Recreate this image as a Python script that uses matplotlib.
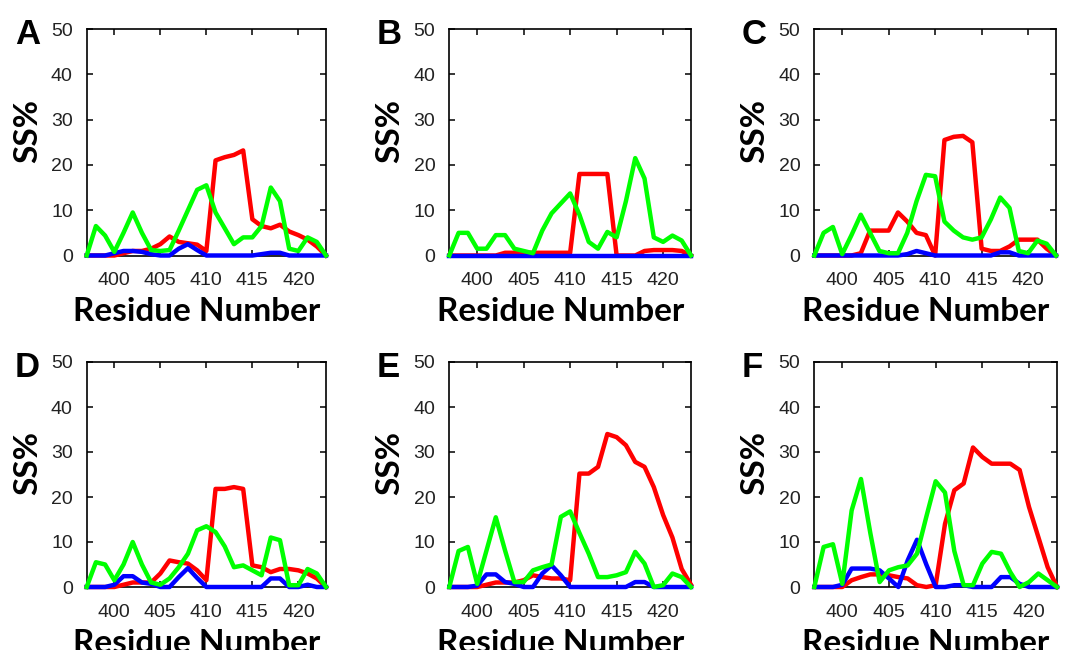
import matplotlib
matplotlib.use("Agg")
import matplotlib.pyplot as plt
import numpy as np

residues = np.arange(397, 424)

# panel A
a_red = [0, 0, 0, 0, 0.5, 1, 1, 1.5, 2.5, 4.2, 3, 2.7, 2.4, 1, 21, 21.7, 22.2, 23.2, 8, 6.5, 6, 6.8, 5.3, 4.5, 3.5, 2, 0]
a_blue = [0, 0, 0, 0.5, 1, 1, 0.8, 0.3, 0, 0, 1.5, 2.5, 1.2, 0, 0, 0, 0, 0, 0, 0.3, 0.6, 0.6, 0, 0, 0, 0, 0]
a_green = [0, 6.5, 4.4, 0.8, 5, 9.5, 5, 1.2, 1, 1.2, 5.5, 10, 14.5, 15.5, 9.5, 6, 2.5, 4, 4, 6.5, 15, 12, 1.5, 1, 4, 3, 0]

# panel B
b_red = [0, 0, 0, 0, 0, 0, 0.6, 0.6, 0.6, 0.6, 0.6, 0.6, 0.6, 0.6, 18, 18, 18, 18, 0, 0, 0, 1, 1.2, 1.2, 1.2, 1, 0]
b_blue = [0] * 27
b_green = [0, 5, 5, 1.5, 1.5, 4.5, 4.5, 1.5, 1, 0.5, 5.5, 9.3, 11.5, 13.7, 9, 3, 1.5, 5.2, 4, 12, 21.5, 17, 4, 3, 4.4, 3.3, 0]

# panel C
c_red = [0, 0, 0, 0, 0, 0.5, 5.5, 5.5, 5.5, 9.5, 7.5, 5, 4.5, 0, 25.5, 26.2, 26.4, 25, 1.5, 1, 1, 2, 3.5, 3.5, 3.5, 1.5, 0]
c_blue = [0, 0, 0, 0, 0, 0, 0, 0, 0, 0, 0.3, 1, 0.5, 0, 0, 0, 0, 0, 0, 0, 0.7, 0.7, 0, 0, 0, 0, 0]
c_green = [0, 5, 6.3, 0.3, 4.5, 9, 5, 1, 0.5, 0.5, 5, 12, 17.8, 17.5, 7.5, 5.5, 4, 3.5, 4, 8, 12.8, 10.5, 1, 0.5, 3.3, 2.6, 0]

# panel D
d_red = [0, 0, 0, 0, 0.5, 1, 1, 1, 3, 5.9, 5.5, 5.2, 3.7, 1.5, 21.8, 21.8, 22.2, 21.8, 4.8, 4.4, 3.3, 4, 4, 3.7, 3, 1.9, 0]
d_blue = [0, 0, 0, 0.5, 2.4, 2.4, 1, 0.7, 0, 0, 2.2, 4.2, 2, 0, 0, 0, 0, 0, 0, 0, 1.9, 1.9, 0, 0, 0.5, 0, 0]
d_green = [0, 5.5, 5, 1.5, 5, 10, 5, 1, 0.5, 1.9, 4.4, 7.4, 12.6, 13.5, 12.2, 9, 4.4, 4.8, 3.7, 2.6, 11, 10.4, 0.4, 0.4, 4, 3, 0]

# panel E
e_red = [0, 0, 0, 0, 0.5, 1, 1, 1, 1.5, 2.6, 2.2, 1.9, 1.9, 1.5, 25.2, 25.2, 26.7, 34, 33.3, 31.5, 27.8, 26.7, 22.2, 16, 11, 4, 0.5]
e_blue = [0, 0, 0, 0.3, 2.8, 2.8, 1.1, 0.7, 0, 0, 3, 4.8, 2.6, 0, 0, 0, 0, 0, 0, 0, 1.1, 1.1, 0, 0, 0, 0, 0]
e_green = [0, 8, 8.9, 0.7, 8.1, 15.5, 8.1, 1.1, 1.1, 3.7, 4.4, 5, 15.6, 16.8, 12, 7.4, 2.2, 2.2, 2.6, 3.3, 7.8, 5.2, 0, 0.4, 3, 2.2, 0]

# panel F
f_red = [0, 0, 0, 0, 1.5, 2.2, 2.8, 2.8, 2.6, 2.2, 1.9, 0.4, 0, 0.4, 14, 21.5, 23, 31, 28.9, 27.4, 27.4, 27.4, 26, 17.8, 11.1, 4.4, 0]
f_blue = [0, 0, 0, 0.5, 4.1, 4.1, 4.1, 3.7, 1.9, 0, 5.9, 10.5, 5, 0, 0, 0.4, 0.4, 0, 0, 0, 2.2, 2.2, 0.7, 0, 0, 0, 0]
f_green = [0, 8.9, 9.5, 0.7, 17, 24, 12, 1.1, 3.7, 4.4, 4.8, 7.4, 15.6, 23.5, 21, 8, 0.4, 0.4, 5.2, 7.8, 7.4, 3.3, 0, 1.1, 3, 1.5, 0]

panels = [
    ('A', a_red, a_blue, a_green),
    ('B', b_red, b_blue, b_green),
    ('C', c_red, c_blue, c_green),
    ('D', d_red, d_blue, d_green),
    ('E', e_red, e_blue, e_green),
    ('F', f_red, f_blue, f_green),
]

# axes boxes in pixels: left, right, top, bottom
boxes = [
    (86.7, 326, 29, 255.5),
    (449.3, 691, 29, 255.5),
    (814.3, 1056, 29, 255.5),
    (86.7, 326, 362, 587),
    (449.3, 691, 362, 587),
    (814.3, 1057, 362, 587),
]

W, H = 1065, 650
fig = plt.figure(figsize=(W / 100, H / 100), dpi=100)

label_font = ['Lato', 'DejaVu Sans']
tick_font = ['Liberation Sans', 'DejaVu Sans']

for (letter, red, blue, green), (l, r, t, b) in zip(panels, boxes):
    ax = fig.add_axes([l / W, 1 - b / H, (r - l) / W, (b - t) / H])
    ax.plot(residues, red, color='#ff0000', lw=3.2, clip_on=False, zorder=3)
    ax.plot(residues, blue, color='#0000ff', lw=3.2, clip_on=False, zorder=4)
    ax.plot(residues, green, color='#00ff00', lw=3.2, clip_on=False, zorder=5)
    ax.set_xlim(397, 423)
    ax.set_ylim(0, 50)
    ax.set_xticks([400, 405, 410, 415, 420])
    ax.set_yticks([0, 10, 20, 30, 40, 50])
    ax.tick_params(direction='in', length=4, width=1.1, top=True, right=True,
                   labelsize=14, labelcolor='#222222')
    ax.tick_params(axis='y', pad=10)
    ax.tick_params(axis='x', pad=12)
    for lab in ax.get_xticklabels() + ax.get_yticklabels():
        lab.set_family(tick_font)
    for sp in ax.spines.values():
        sp.set_linewidth(1.2)
    ax.set_ylabel('SS%', fontsize=24, fontweight='bold', family=label_font)
    ax.yaxis.set_label_coords(-0.185, 0.55)
    ax.text(0.46, -0.185, 'Residue Number', transform=ax.transAxes,
            ha='center', va='top', fontsize=24, fontweight='bold', family=label_font)
    ax.text(-0.30, 0.935, letter, transform=ax.transAxes, ha='left', va='baseline',
            fontsize=25, fontweight='bold', family=['Liberation Sans', 'DejaVu Sans'])

fig.savefig('out.png', dpi=100)
